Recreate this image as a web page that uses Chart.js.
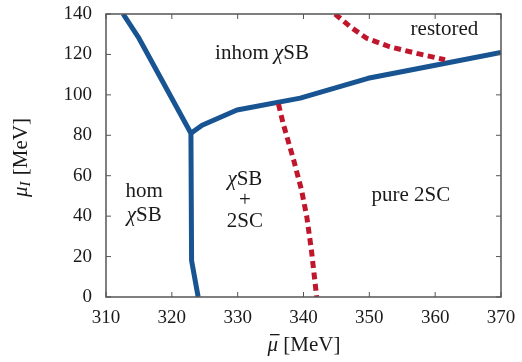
<!DOCTYPE html>
<html>
<head>
<meta charset="utf-8">
<script src="https://cdn.jsdelivr.net/npm/chart.js@4.4.1/dist/chart.umd.min.js"></script>
<style>
  html, body { margin: 0; padding: 0; background: #fff; }
</style>
</head>
<body>
<canvas id="phaseDiagram" width="522" height="362"></canvas>
<script>
// boundary lines, (mu bar, mu_I) in MeV
const homBoundary = [
  { x: 312.6, y: 140 }, { x: 314.9, y: 128.6 }, { x: 322.9, y: 81 },
  { x: 323.0, y: 18 }, { x: 324.0, y: 0 }
];
const inhomBoundary = [
  { x: 322.9, y: 81 }, { x: 324.6, y: 85 }, { x: 329.9, y: 92.5 },
  { x: 339.5, y: 98.4 }, { x: 349.8, y: 108.2 }, { x: 360.2, y: 114.8 },
  { x: 370, y: 121 }
];
const scBoundary = [
  { x: 336.2, y: 95.5 }, { x: 336.9, y: 85.9 }, { x: 338.5, y: 67.8 },
  { x: 339.7, y: 52.9 }, { x: 340.5, y: 39.7 }, { x: 341.2, y: 23.3 },
  { x: 342.0, y: 0 }
];
const restoredBoundary = [
  { x: 344.8, y: 140 }, { x: 347.1, y: 133.7 }, { x: 349.6, y: 128 },
  { x: 353.1, y: 123.8 }, { x: 357.2, y: 120.5 }, { x: 361.5, y: 117.4 }
];

const xTicks = [310, 320, 330, 340, 350, 360, 370];
const yTicks = [0, 20, 40, 60, 80, 100, 120, 140];

// phase labels: each line is a list of [text, italic]
const phaseLabels = [
  { x: 333.7, y: 120.7, parts: [['inhom ', false], ['χ', true], ['SB', false]] },
  { x: 361.4, y: 132.4, parts: [['restored', false]] },
  { x: 315.8, y: 52, parts: [['hom', false]] },
  { x: 315.8, y: 40.5, parts: [['χ', true], ['SB', false]] },
  { x: 331.1, y: 58.3, parts: [['χ', true], ['SB', false]] },
  { x: 331.1, y: 47.6, parts: [['+', false]] },
  { x: 331.1, y: 37.2, parts: [['2SC', false]] },
  { x: 356.3, y: 50.4, parts: [['pure 2SC', false]] }
];

const SERIF = '"Liberation Serif", "DejaVu Serif", serif';
const blue = 'rgb(24, 84, 145)';
const red = 'rgb(192, 22, 44)';

function drawRich(ctx, parts, cx, cy, size) {
  let total = 0;
  parts.forEach(p => {
    ctx.font = (p[1] ? 'italic ' : '') + size + 'px ' + SERIF;
    total += ctx.measureText(p[0]).width;
  });
  let x = cx - total / 2;
  ctx.textAlign = 'left';
  ctx.textBaseline = 'middle';
  parts.forEach(p => {
    ctx.font = (p[1] ? 'italic ' : '') + size + 'px ' + SERIF;
    ctx.fillText(p[0], x, cy);
    x += ctx.measureText(p[0]).width;
  });
}

const decorations = {
  id: 'decorations',
  afterDatasetsDraw(chart) {
    const { ctx, chartArea: a, scales } = chart;
    const sx = scales.x, sy = scales.y;
    ctx.save();

    // frame with inward ticks on all four sides
    ctx.strokeStyle = '#555';
    ctx.lineWidth = 1.5;
    ctx.strokeRect(a.left, a.top, a.right - a.left, a.bottom - a.top);
    ctx.lineWidth = 1;
    const tl = 5;
    ctx.beginPath();
    xTicks.forEach(v => {
      const px = sx.getPixelForValue(v);
      ctx.moveTo(px, a.bottom); ctx.lineTo(px, a.bottom - tl);
      ctx.moveTo(px, a.top); ctx.lineTo(px, a.top + tl);
    });
    yTicks.forEach(v => {
      const py = sy.getPixelForValue(v);
      ctx.moveTo(a.left, py); ctx.lineTo(a.left + tl, py);
      ctx.moveTo(a.right, py); ctx.lineTo(a.right - tl, py);
    });
    ctx.stroke();

    // region labels
    ctx.fillStyle = '#1a1a1a';
    phaseLabels.forEach(l => {
      drawRich(ctx, l.parts, sx.getPixelForValue(l.x), sy.getPixelForValue(l.y), 21);
    });

    // x axis title: mu bar [MeV], bar drawn over the mu
    ctx.font = 'italic 21px ' + SERIF;
    const wm = ctx.measureText('μ').width;
    ctx.font = '21px ' + SERIF;
    const wr = ctx.measureText(' [MeV]').width;
    const x0 = 304 - (wm + wr) / 2;
    ctx.textAlign = 'left';
    ctx.textBaseline = 'middle';
    ctx.font = 'italic 21px ' + SERIF;
    ctx.fillText('μ', x0, 345);
    ctx.fillRect(x0 + 2.5, 334, wm - 1, 1.3);
    ctx.font = '21px ' + SERIF;
    ctx.fillText(' [MeV]', x0 + wm, 345);

    // y axis title: mu_I [MeV], rotated
    ctx.translate(21, 158);
    ctx.rotate(-Math.PI / 2);
    ctx.font = 'italic 21px ' + SERIF;
    const wMu = ctx.measureText('μ').width;
    ctx.font = 'italic 15px ' + SERIF;
    const wI = ctx.measureText('I').width;
    ctx.font = '21px ' + SERIF;
    const wRest = ctx.measureText(' [MeV]').width;
    let x = -(wMu + wI + wRest) / 2;
    ctx.font = 'italic 21px ' + SERIF;
    ctx.fillText('μ', x, 0);
    x += wMu;
    ctx.font = 'italic 15px ' + SERIF;
    ctx.fillText('I', x, 5);
    x += wI + 1;
    ctx.font = '21px ' + SERIF;
    ctx.fillText(' [MeV]', x, 0);
    ctx.restore();
  }
};

function lineSet(data, color, dashed) {
  return {
    data: data,
    borderColor: color,
    borderWidth: 5,
    borderDash: dashed ? [7, 4.5] : [],
    borderCapStyle: 'butt',
    borderJoinStyle: 'round',
    pointRadius: 0,
    tension: 0,
    fill: false
  };
}

// fixed axis sizes; tick label overflow is left to the layout padding
function fitX(s) {
  s.height = 65;
  s.paddingLeft = 0; s.paddingRight = 0;
}
function fitY(s) {
  s.width = 106;
  s.paddingTop = 0; s.paddingBottom = 0;
}

new Chart(document.getElementById('phaseDiagram').getContext('2d'), {
  type: 'line',
  data: {
    datasets: [
      lineSet(scBoundary, red, true),
      lineSet(restoredBoundary, red, true),
      lineSet(homBoundary, blue, false),
      lineSet(inhomBoundary, blue, false)
    ]
  },
  options: {
    responsive: false,
    animation: false,
    events: [],
    layout: { padding: { top: 14, right: 21, left: 0, bottom: 0 } },
    plugins: { legend: { display: false }, tooltip: { enabled: false } },
    scales: {
      x: {
        type: 'linear',
        min: 310,
        max: 370,
        afterFit: fitX,
        afterBuildTicks: s => { s.ticks = xTicks.map(v => ({ value: v })); },
        grid: { display: false, drawTicks: false },
        border: { display: false },
        ticks: { padding: 10, color: '#1a1a1a', font: { family: SERIF, size: 19 } }
      },
      y: {
        type: 'linear',
        min: 0,
        max: 140,
        afterFit: fitY,
        afterBuildTicks: s => { s.ticks = yTicks.map(v => ({ value: v })); },
        grid: { display: false, drawTicks: false },
        border: { display: false },
        ticks: { padding: 14, color: '#1a1a1a', font: { family: SERIF, size: 19 } }
      }
    }
  },
  plugins: [decorations]
});
</script>
</body>
</html>
